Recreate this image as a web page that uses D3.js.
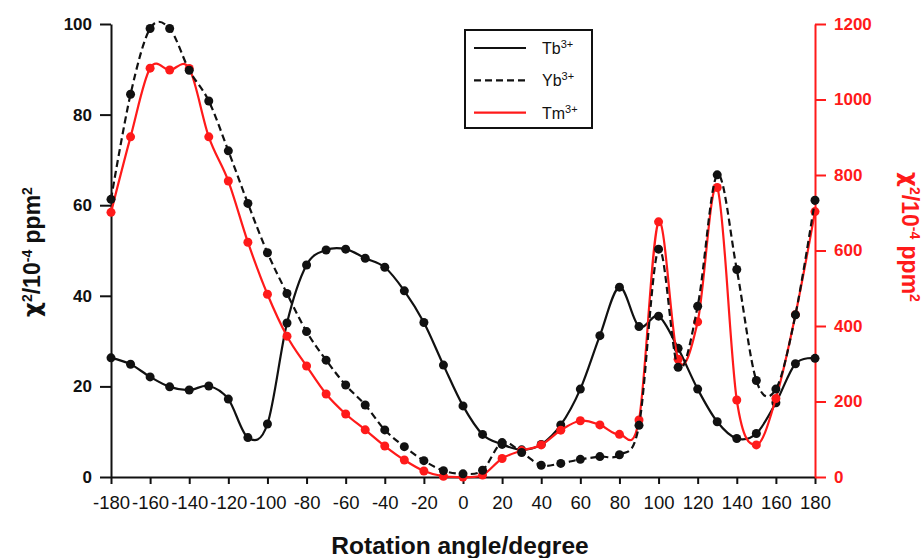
<!DOCTYPE html>
<html>
<head>
<meta charset="utf-8">
<script src="https://cdn.jsdelivr.net/npm/d3@7"></script>
<style>
  body { margin: 0; background: #fff; }
  svg { display: block; font-family: "Liberation Sans", Arial, sans-serif; }
</style>
</head>
<body>
<div id="chart"></div>
<script>
var width = 923, height = 558;
var margin = { top: 24, right: 108, bottom: 81, left: 111 };

// rotation angles (degree)
var angles = [-180, -170, -160, -150, -140, -130, -120, -110, -100, -90, -80, -70, -60, -50, -40, -30, -20, -10,
  0, 10, 20, 30, 40, 50, 60, 70, 80, 90, 100, 110, 120, 130, 140, 150, 160, 170, 180];

// left axis series
var tb = [26.3, 24.9, 22.1, 19.9, 19.2, 20.1, 17.2, 8.7, 11.7, 34, 46.8, 50.1, 50.3, 48.3, 46.3, 41.1, 34.1, 24.7,
  15.7, 9.4, 7.2, 6, 7.2, 11.5, 19.4, 31.2, 41.9, 33.2, 35.5, 28.4, 19.4, 12.2, 8.5, 9.6, 16.4, 25, 26.2];
var yb = [61.3, 84.5, 99, 99, 89.8, 83, 72, 60.4, 49.5, 40.5, 32.1, 25.8, 20.3, 15.9, 10.4, 6.7, 3.6, 1.4,
  0.7, 1.5, 7.6, 5.4, 2.6, 3, 3.9, 4.5, 4.9, 11.4, 50.3, 24.2, 37.7, 66.7, 45.8, 21.3, 19.4, 35.8, 61.1];

// right axis series
var tm = [701, 901, 1083, 1078, 1082, 901, 784, 622, 484, 373, 294, 220, 167, 125, 82, 45, 16, 2,
  0, 5, 49, 70, 85, 124, 149, 138, 113, 151, 676, 312, 411, 767, 204, 85, 208, 430, 703];

var xTicks = [-180, -160, -140, -120, -100, -80, -60, -40, -20, 0, 20, 40, 60, 80, 100, 120, 140, 160, 180];
var yLeftTicks = [0, 20, 40, 60, 80, 100];
var yRightTicks = [0, 200, 400, 600, 800, 1000, 1200];

var red = '#ff1a1a';

var svg = d3.select('#chart').append('svg')
  .attr('width', width)
  .attr('height', height);

var x = d3.scaleLinear().domain([-180, 180]).range([margin.left, width - margin.right]);
var yL = d3.scaleLinear().domain([0, 100]).range([height - margin.bottom, margin.top]);
var yR = d3.scaleLinear().domain([0, 1200]).range([height - margin.bottom, margin.top]);

// plain hyphen, no thousands separator
var plain = d => String(d);

// axes
var xAxis = svg.append('g')
  .attr('transform', `translate(0, ${height - margin.bottom})`)
  .call(d3.axisBottom(x).tickValues(xTicks).tickFormat(plain).tickSize(7).tickSizeOuter(0).tickPadding(12));

var leftAxis = svg.append('g')
  .attr('transform', `translate(${margin.left}, 0)`)
  .call(d3.axisLeft(yL).tickValues(yLeftTicks).tickFormat(plain).tickSize(11).tickSizeOuter(0).tickPadding(8));

var rightAxis = svg.append('g')
  .attr('transform', `translate(${width - margin.right}, 0)`)
  .call(d3.axisRight(yR).tickValues(yRightTicks).tickFormat(plain).tickSize(11).tickSizeOuter(0).tickPadding(8));

[xAxis, leftAxis].forEach(g => {
  g.selectAll('path, line').attr('stroke', '#111').attr('stroke-width', 2);
  g.selectAll('text').attr('fill', '#111').attr('font-family', null);
});
xAxis.selectAll('text').style('font-size', '18.5px');
leftAxis.selectAll('text').style('font-size', '17px').style('font-weight', 'bold');
rightAxis.selectAll('path, line').attr('stroke', red).attr('stroke-width', 2);
rightAxis.selectAll('text').attr('fill', red).style('font-size', '17px').style('font-weight', 'bold').attr('font-family', null);

// curves
var lineL = d3.line().x((d, i) => x(angles[i])).y(d => yL(d)).curve(d3.curveCardinal);
var lineR = d3.line().x((d, i) => x(angles[i])).y(d => yR(d)).curve(d3.curveCardinal);

function drawSeries(values, line, yScale, colour, dash) {
  svg.append('path')
    .datum(values)
    .attr('d', line)
    .attr('fill', 'none')
    .attr('stroke', colour)
    .attr('stroke-width', 2.2)
    .attr('stroke-dasharray', dash);

  svg.append('g').selectAll('circle')
    .data(values)
    .enter()
    .append('circle')
    .attr('cx', (d, i) => x(angles[i]))
    .attr('cy', d => yScale(d))
    .attr('r', 4.5)
    .attr('fill', colour);
}

drawSeries(tb, lineL, yL, '#111', null);
drawSeries(tm, lineR, yR, red, null);
drawSeries(yb, lineL, yL, '#111', '7,4');

// axis titles
function chiTitle(sel) {
  sel.append('tspan').text('χ').style('font-family', '"DejaVu Sans", sans-serif');
  sel.append('tspan').text('2').attr('baseline-shift', 'super').style('font-size', '14px');
  sel.append('tspan').text('/10');
  sel.append('tspan').text('-4').attr('baseline-shift', 'super').style('font-size', '14px');
  sel.append('tspan').text(' ppm');
  sel.append('tspan').text('2').attr('baseline-shift', 'super').style('font-size', '14px');
}

svg.append('text')
  .attr('transform', 'translate(40, 252) rotate(-90)')
  .attr('text-anchor', 'middle')
  .style('font-size', '23px')
  .style('font-weight', 'bold')
  .attr('fill', '#111')
  .call(chiTitle);

svg.append('text')
  .attr('transform', 'translate(902, 237) rotate(90)')
  .attr('text-anchor', 'middle')
  .style('font-size', '23px')
  .style('font-weight', 'bold')
  .attr('fill', red)
  .call(chiTitle);

svg.append('text')
  .attr('x', 460)
  .attr('y', 554)
  .attr('text-anchor', 'middle')
  .style('font-size', '24.5px')
  .style('font-weight', 'bold')
  .attr('fill', '#111')
  .text('Rotation angle/degree');

// legend
var legendItems = [
  { ion: 'Tb', colour: '#111', dash: null },
  { ion: 'Yb', colour: '#111', dash: '7,4' },
  { ion: 'Tm', colour: red, dash: null }
];

var legend = svg.append('g').attr('transform', 'translate(465, 30)');

legend.append('rect')
  .attr('width', 127)
  .attr('height', 98)
  .attr('fill', '#fff')
  .attr('stroke', '#111')
  .attr('stroke-width', 2);

legendItems.forEach((d, i) => {
  var ly = 18 + i * 32.3;
  legend.append('line')
    .attr('x1', 9).attr('x2', 61)
    .attr('y1', ly).attr('y2', ly)
    .attr('stroke', d.colour)
    .attr('stroke-width', 2.2)
    .attr('stroke-dasharray', d.dash);
  var t = legend.append('text')
    .attr('x', 77)
    .attr('y', ly + 6)
    .style('font-size', '16px')
    .attr('fill', '#111');
  t.append('tspan').text(d.ion);
  t.append('tspan').text('3+').attr('baseline-shift', 'super').style('font-size', '11px');
});
</script>
</body>
</html>
